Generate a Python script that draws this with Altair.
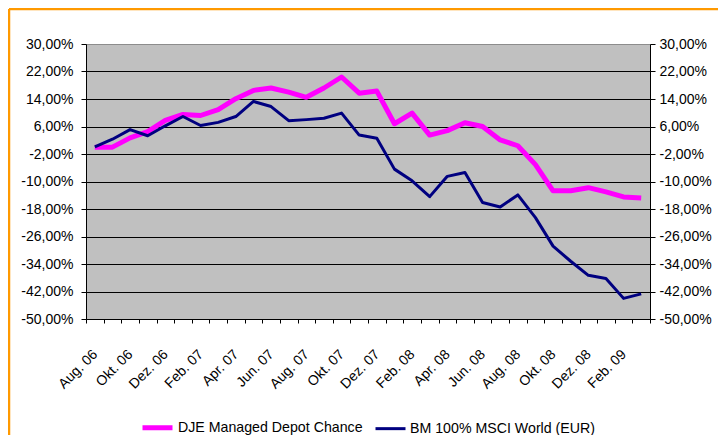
import json
import altair as alt
import pandas as pd

months = ["Aug. 06", "Sep. 06", "Okt. 06", "Nov. 06", "Dez. 06",
          "Jan. 07", "Feb. 07", "Mrz. 07", "Apr. 07", "Mai. 07", "Jun. 07",
          "Jul. 07", "Aug. 07", "Sep. 07", "Okt. 07", "Nov. 07", "Dez. 07",
          "Jan. 08", "Feb. 08", "Mrz. 08", "Apr. 08", "Mai. 08", "Jun. 08",
          "Jul. 08", "Aug. 08", "Sep. 08", "Okt. 08", "Nov. 08", "Dez. 08",
          "Jan. 09", "Feb. 09", "Mrz. 09"]
shown_labels = months[::2]

series_names = ["DJE Managed Depot Chance", "BM 100% MSCI World (EUR)"]

dje = [0.0, 0.0, 2.7, 4.5, 7.8, 9.5, 9.2, 10.9, 14.1, 16.5, 17.2, 16.0,
       14.5, 17.2, 20.4, 15.7, 16.3, 6.8, 9.9, 3.5, 4.8, 7.1, 6.0, 2.1,
       0.4, -5.1, -12.7, -12.7, -11.8, -13.0, -14.5, -14.8]
msci = [0.1, 2.3, 5.1, 3.3, 6.2, 8.9, 6.3, 7.2, 8.9, 13.3, 11.8, 7.7,
        8.0, 8.4, 9.9, 3.5, 2.6, -6.4, -9.8, -14.4, -8.5, -7.4, -16.1, -17.4,
        -13.9, -20.5, -28.8, -33.2, -37.3, -38.2, -44.0, -42.7]

y_ticks = list(range(-50, 31, 8))

rows = []
for m, v in zip(months, dje):
    rows.append({"Monat": m, "Wert": v, "Serie": series_names[0]})
for m, v in zip(months, msci):
    rows.append({"Monat": m, "Wert": v, "Serie": series_names[1]})
df = pd.DataFrame(rows)

FONT = "Liberation Sans"
y_label_expr = ("(datum.value < 0 ? '-' : '') + "
                "replace(format(abs(datum.value), '.2f'), '.', ',') + '%'")
x_label_expr = ("indexof(" + json.dumps(shown_labels) +
                ", datum.value) >= 0 ? datum.value : ''")

x_enc = alt.X(
    "Monat:N",
    sort=months,
    bandPosition=0.5,
    scale=alt.Scale(type="band", domain=months, paddingInner=0, paddingOuter=0),
    axis=alt.Axis(
        title=None, tickBand="extent", labelExpr=x_label_expr, labelAngle=-45,
        labelAlign="right", labelBaseline="middle", labelPadding=29,
        tickSize=4, tickColor="black", domainColor="black", labelColor="black",
        labelFont=FONT, labelFontSize=14, labelOverlap=False, grid=False,
    ),
)

y_scale = alt.Scale(domain=[-50, 30], nice=False, zero=False)

color_enc = alt.Color(
    "Serie:N",
    scale=alt.Scale(domain=series_names, range=["#FF00FF", "#000080"]),
    legend=alt.Legend(title=None),
)
width_enc = alt.StrokeWidth(
    "Serie:N",
    scale=alt.Scale(domain=series_names, range=[5, 3]),
    legend=alt.Legend(title=None),
)

common_axis = dict(
    title=None, values=y_ticks, labelExpr=y_label_expr, tickSize=5,
    tickColor="black", domainColor="black", labelColor="black",
    labelFont=FONT, labelFontSize=14,
)

left = alt.Chart(df).transform_filter(
    alt.datum.Serie == series_names[0]
).mark_line(strokeJoin="round").encode(
    x=x_enc,
    y=alt.Y("Wert:Q", scale=y_scale, axis=alt.Axis(
        orient="left", labelPadding=8, grid=True, gridWidth=1,
        gridColor={"condition": {"test": "datum.value === 30", "value": "#8c8c8c"},
                   "value": "black"},
        **common_axis)),
    color=color_enc,
    strokeWidth=width_enc,
)

right = alt.Chart(df).transform_filter(
    alt.datum.Serie == series_names[1]
).mark_line(strokeJoin="round").encode(
    x=x_enc,
    y=alt.Y("Wert:Q", scale=y_scale, axis=alt.Axis(
        orient="right", labelPadding=4, grid=False, **common_axis)),
    color=color_enc,
    strokeWidth=width_enc,
)

one = pd.DataFrame({"k": [0]})
border_top = alt.Chart(one).mark_rule(color="#FF9900", strokeWidth=2.5).encode(
    x=alt.value(-77), x2=alt.value(640), y=alt.value(-35))
border_left = alt.Chart(one).mark_rule(color="#FF9900", strokeWidth=2.5).encode(
    x=alt.value(-77), y=alt.value(-35), y2=alt.value(400))

chart = alt.layer(left, right, border_top, border_left).resolve_scale(
    y="independent"
).properties(
    width=564, height=275,
    padding={"left": 78, "top": 36, "right": 68, "bottom": 116},
    autosize=alt.AutoSizeParams(type="none"),
    background="white",
).configure_view(
    fill="#C0C0C0", stroke=None
).configure_legend(
    orient="none", legendX=54, legendY=366, direction="horizontal",
    symbolType="stroke", symbolSize=900, labelFont=FONT, labelFontSize=14.2,
    labelColor="black", labelOffset=3, columnPadding=6, symbolOpacity=1,
    labelLimit=0,
)

chart.save("out.html", embed_options={"renderer": "svg", "actions": False})
